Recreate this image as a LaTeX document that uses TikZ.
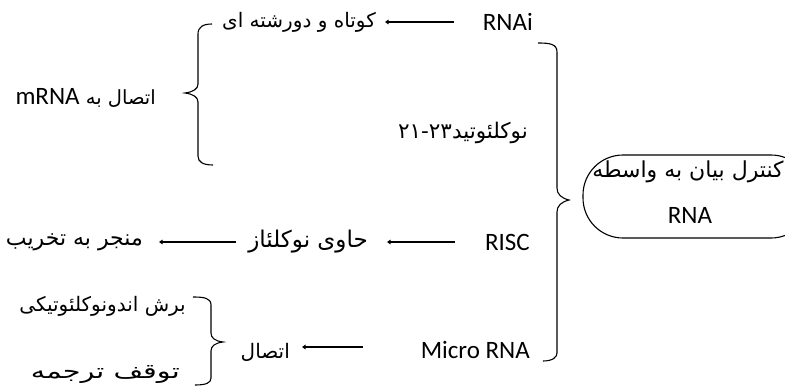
\documentclass[tikz,border=0pt]{standalone}
\usepackage{fontspec}
\setmainfont{Carlito}
\newfontfamily\fa[Script=Arabic]{DejaVu Sans}
\newfontfamily\fawide[Script=Arabic, FakeStretch=1.4]{DejaVu Sans}
\TeXXeTstate=1
\usetikzlibrary{arrows.meta}
\begin{document}
\begin{tikzpicture}[x=1pt,y=-1pt,
  lat/.style={font=\fontsize{25}{27}\selectfont, inner sep=0pt},
  per/.style={font=\fontsize{#1}{#1}\selectfont\fa, inner sep=0pt},
  per/.default=20,
  arr/.style={draw, line width=1.5pt, -{Triangle[length=3.5pt,width=4.5pt]}},
  brace/.style={draw, line width=1.1pt},
  pill/.style={draw, line width=1.1pt, rounded corners=40pt, minimum width=228pt, minimum height=83pt, inner sep=0pt}]
\useasboundingbox (0,0) rectangle (785,391);

% RNAi row
\node[lat, anchor=east] (rnai) at (533,22) {RNAi};
\node[per=20, anchor=east] (kotah) at (376,22) {\beginR کوتاه و دورشته ای\endR};
\draw[arr] ([xshift=-29pt]rnai.west) -- ([xshift=9pt]kotah.east);

% mRNA binding
\node[per=19.5, anchor=east] (mrna) at (156,98) {\beginR اتصال به {\rmfamily\fontsize{25}{27}\selectfont mRNA}\endR};
\node[per=21.5, anchor=east] (nuc) at (528,133) {\beginR نوکلئوتید\beginL ۲۱-۲۳\endL\endR};

% RISC row
\node[lat, anchor=east] (risc) at (530,242) {RISC};
\node[per=23, anchor=east] (havi) at (368,242) {\beginR حاوی نوکلئاز\endR};
\node[per=22, anchor=east] (monjar) at (143,242) {\beginR منجر به تخریب\endR};
\draw[arr] ([xshift=-30pt]risc.west) -- ([xshift=19pt]havi.east);
\draw[arr] ([xshift=-12pt]havi.west) -- ([xshift=16pt]monjar.east);

% Micro RNA row
\node[lat, anchor=east] (micro) at (530,350) {Micro RNA};
\node[per=20, anchor=east] (ettesal) at (290,352) {اتصال};
\node[per=20, anchor=east] (boresh) at (186,306) {\beginR برش اندونوکلئوتیکی\endR};
\node[anchor=east, inner sep=0pt, font=\fontsize{20.5}{20.5}\selectfont\fawide] (tavaghof) at (180,374) {\beginR توقف ترجمه\endR};
\draw[arr] ([xshift=-58pt,yshift=3pt]micro.west) -- ([xshift=12pt,yshift=5pt]ettesal.east);

% pill box
\node[pill] (box) at (697,196.5) {};
\node[per=22, anchor=center] (ktxt) at (688,172) {\beginR کنترل بیان به واسطه\endR};
\node[lat, anchor=center] (krna) at (690,215) {RNA};

% braces
\draw[brace] (212,24) .. controls (203,24) and (198,27) .. (198,34) -- (198,84)
  .. controls (198,89) and (193,92) .. (185,93) .. controls (193,94) and (198,97) .. (198,102)
  -- (198,156) .. controls (198,162) and (203,165) .. (213,165);
\draw[brace] (538,43) .. controls (550,43) and (557,44) .. (557,52) -- (557,188)
  .. controls (557,194) and (561,198) .. (569,200) .. controls (561,202) and (557,206) .. (557,212)
  -- (557,353) .. controls (557,357) and (553,361) .. (543,361);
\draw[brace] (193,297) .. controls (204,297) and (211,298) .. (211,305) -- (211,333)
  .. controls (211,338) and (215,341) .. (223,342) .. controls (215,343) and (211,346) .. (211,351)
  -- (211,378) .. controls (211,383) and (206,385) .. (195,385);
\end{tikzpicture}
\end{document}
